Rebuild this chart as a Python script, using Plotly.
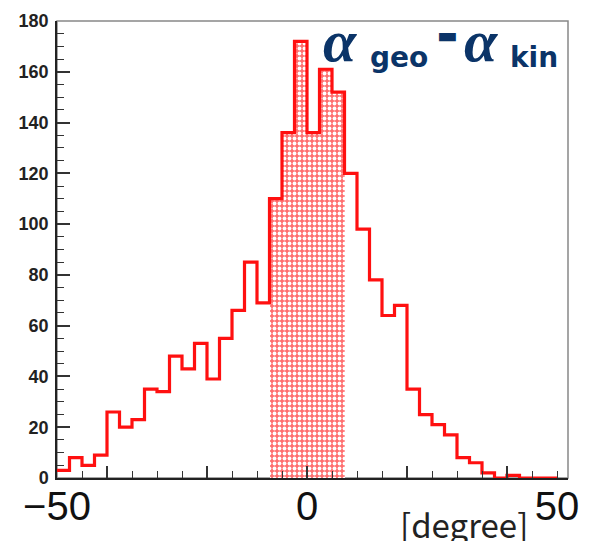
import numpy as np
import plotly.graph_objects as go

# ---- data ----
bin_start = -50.0
bin_width = 2.5
counts = [3, 8, 5, 9, 26, 20, 23, 35, 34, 48,
          43, 53, 39, 55, 66, 85, 69, 110, 136, 172,
          136, 161, 152, 120, 98, 78, 64, 68, 35, 25,
          21, 17, 8, 6, 2, 0, 1, 0, 0, 0]
shade_lo, shade_hi = -7.5, 7.5
x_labels = [-50, 0, 50]
y_ticks = [0, 20, 40, 60, 80, 100, 120, 140, 160, 180]

edges = bin_start + bin_width * np.arange(len(counts) + 1)
centers = 0.5 * (edges[:-1] + edges[1:])
counts_arr = np.array(counts)

sel = (edges[:-1] >= shade_lo) & (edges[1:] <= shade_hi)

fig = go.Figure()

# shaded region (hatched fill)
fig.add_trace(go.Bar(
    x=centers[sel], y=counts_arr[sel], width=bin_width,
    marker=dict(color="#ff7a7a", line=dict(width=0),
                pattern=dict(shape=".", fgcolor="white", bgcolor="#ff6f6f",
                             size=5, solidity=0.45, fillmode="replace")),
    hoverinfo="skip", showlegend=False,
))

# histogram outline
xs = list(edges[:-1]) + [edges[-1]]
ys = list(counts) + [counts[-1]]
fig.add_trace(go.Scatter(
    x=xs, y=ys, mode="lines", line=dict(color="#ff1010", width=3.2, shape="hv"),
    hoverinfo="skip", showlegend=False,
))

fig.update_layout(
    width=590, height=541,
    margin=dict(l=57, r=22, t=21, b=63, autoexpand=False),
    paper_bgcolor="white", plot_bgcolor="white",
    bargap=0,
    xaxis=dict(
        range=[-50, 52.2], tickmode="array", tickvals=x_labels,
        ticks="", showgrid=False, zeroline=False, automargin=False,
        showline=True, linecolor="#222", linewidth=1.5,
        tickfont=dict(family="Liberation Sans", size=40, color="#111"),
        ticklabelstandoff=-8,
    ),
    xaxis2=dict(
        range=[-50, 52.2], overlaying="x", anchor="y", side="bottom",
        tickmode="array", tickvals=[-40, -20, 0, 20, 40], automargin=False,
        ticks="inside", ticklen=12, tickwidth=1.5, tickcolor="#333",
        minor=dict(dtick=5, tick0=0, ticks="inside", ticklen=7, tickwidth=1.2, tickcolor="#333"),
        showticklabels=False, showgrid=False, zeroline=False, showline=False,
    ),
    yaxis=dict(
        range=[0, 180], tickmode="array", tickvals=y_ticks, automargin=False,
        ticks="inside", ticklen=13, tickwidth=1.5, tickcolor="#333",
        minor=dict(dtick=5, tick0=0, ticks="inside", ticklen=7, tickwidth=1.2, tickcolor="#333"),
        showgrid=False, zeroline=False,
        showline=True, linecolor="#222", linewidth=1.5,
        tickfont=dict(family="Liberation Sans", size=18, color="#222", weight="bold"),
        ticklabelstandoff=3,
    ),
)

# invisible trace on xaxis2 so it renders
fig.add_trace(go.Scatter(x=[-50], y=[0], xaxis="x2", mode="markers",
                         marker=dict(opacity=0), hoverinfo="skip", showlegend=False))

# gray frame
fig.add_shape(type="rect", xref="paper", yref="paper", x0=0, y0=0, x1=1, y1=1,
              line=dict(color="#888", width=1.5), layer="below")

navy = "#0b3468"
ann = [
    ("<i>α</i>", 0.517, 0.957, 60, "bold", "Liberation Serif"),
    ("geo", 0.608, 0.921, 28, "bold", "DejaVu Sans"),
    ("▬", 0.740, 0.968, 22, "bold", "DejaVu Sans"),
    ("<i>α</i>", 0.792, 0.957, 60, "bold", "Liberation Serif"),
    ("kin", 0.882, 0.921, 28, "bold", "DejaVu Sans"),
]
for t, x, y, s, w, fam in ann:
    fig.add_annotation(text=t, x=x, y=y, xref="paper", yref="paper",
                       xanchor="left", yanchor="middle", showarrow=False,
                       font=dict(family=fam, size=s, color=navy, weight=w))

fig.add_annotation(text="[degree]", x=0.796, y=-0.100, xref="paper", yref="paper",
                   xanchor="center", yanchor="middle", showarrow=False,
                   font=dict(family="Noto Sans CJK JP", size=33, color="#222"))

fig.write_html("out.html")
